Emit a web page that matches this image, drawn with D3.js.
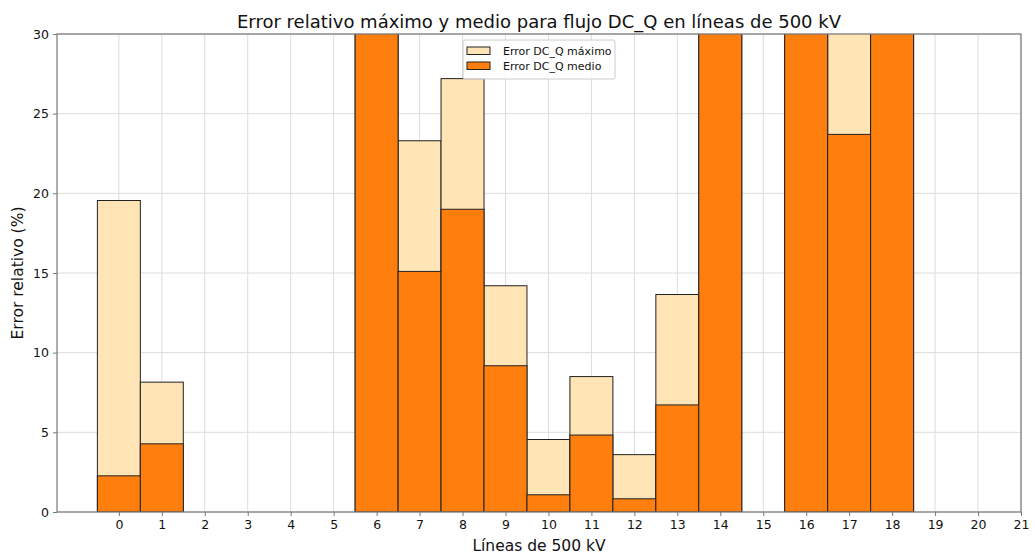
<!DOCTYPE html>
<html>
<head>
<meta charset="utf-8">
<script src="https://cdn.jsdelivr.net/npm/d3@7"></script>
<style>
  html, body { margin: 0; padding: 0; background: #fff; }
  svg { display: block; font-family: "DejaVu Sans", sans-serif; }
</style>
</head>
<body>
<svg id="chart" width="1035" height="556"></svg>
<script>
// Line index (500 kV lines)
const lines = d3.range(0, 19);
// Maximum relative error of DC_Q flow (%) — null where no data
const errMax = [19.55, 8.15, null, null, null, null, 48.0, 23.3, 27.2, 14.2, 4.55, 8.5, 3.6, 13.65, 55.0, null, 62.0, 41.0, 44.0];
// Mean relative error of DC_Q flow (%)
const errMean = [2.27, 4.28, null, null, null, null, 36.0, 15.1, 19.0, 9.18, 1.08, 4.83, 0.83, 6.72, 40.0, null, 47.0, 23.7, 33.0];
const xTicks = d3.range(0, 22);
const yTicks = [0, 5, 10, 15, 20, 25, 30];
const seriesNames = ["Error DC_Q máximo", "Error DC_Q medio"];
const colors = ["#FFE4B5", "#FF7F0E"];

const svg = d3.select("#chart");
const margin = { left: 57, right: 14, top: 34, bottom: 44 };
const W = 1035, H = 556;

const x = d3.scaleLinear().domain([-1.44, 21]).range([margin.left, W - margin.right]);
const y = d3.scaleLinear().domain([0, 30]).range([H - margin.bottom, margin.top]);

svg.append("defs").append("clipPath").attr("id", "plotClip")
  .append("rect")
  .attr("x", x.range()[0]).attr("y", y.range()[1])
  .attr("width", x.range()[1] - x.range()[0])
  .attr("height", y.range()[0] - y.range()[1]);

// Grid
const grid = svg.append("g");
grid.selectAll(".gx").data(xTicks).join("line")
  .attr("x1", d => x(d)).attr("x2", d => x(d))
  .attr("y1", y(0)).attr("y2", y(30))
  .attr("stroke", "#dcdcdc").attr("stroke-width", 1);
grid.selectAll(".gy").data(yTicks).join("line")
  .attr("x1", x.range()[0]).attr("x2", x.range()[1])
  .attr("y1", d => y(d)).attr("y2", d => y(d))
  .attr("stroke", "#dcdcdc").attr("stroke-width", 1);

// Bars
const bars = svg.append("g").attr("clip-path", "url(#plotClip)");
const bw = x(1) - x(0);
[errMax, errMean].forEach((vals, k) => {
  bars.append("g").selectAll("rect")
    .data(lines.filter(i => vals[i] != null))
    .join("rect")
    .attr("x", i => x(i - 0.5))
    .attr("width", bw)
    .attr("y", i => y(vals[i]))
    .attr("height", i => y(0) - y(vals[i]))
    .attr("fill", colors[k])
    .attr("stroke", "#222")
    .attr("stroke-width", 1);
});

// Frame
svg.append("rect")
  .attr("x", x.range()[0]).attr("y", y.range()[1])
  .attr("width", x.range()[1] - x.range()[0])
  .attr("height", y.range()[0] - y.range()[1])
  .attr("fill", "none").attr("stroke", "#777").attr("stroke-width", 1.2);

// Axes
const xAxis = svg.append("g").attr("transform", `translate(0,${y(0)})`)
  .call(d3.axisBottom(x).tickValues(xTicks).tickFormat(d3.format("d")).tickSize(4).tickPadding(4));
const yAxis = svg.append("g").attr("transform", `translate(${x.range()[0]},0)`)
  .call(d3.axisLeft(y).tickValues(yTicks).tickSize(4).tickPadding(4));
[xAxis, yAxis].forEach(a => {
  a.select(".domain").remove();
  a.selectAll(".tick line").attr("stroke", "#777");
  a.selectAll(".tick text").attr("fill", "#111").style("font-size", "12.5px")
    .style("font-family", "DejaVu Sans, sans-serif");
});

// Titles
svg.append("text").attr("x", (x.range()[0] + x.range()[1]) / 2).attr("y", 28)
  .attr("text-anchor", "middle").style("font-size", "18px").attr("fill", "#111")
  .text("Error relativo máximo y medio para flujo DC_Q en líneas de 500 kV");
svg.append("text").attr("x", (x.range()[0] + x.range()[1]) / 2).attr("y", 551)
  .attr("text-anchor", "middle").style("font-size", "15.5px").attr("fill", "#111")
  .text("Líneas de 500 kV");
svg.append("text").attr("transform", `translate(23,${(y(0) + y(30)) / 2}) rotate(-90)`)
  .attr("text-anchor", "middle").style("font-size", "15.5px").attr("fill", "#111")
  .text("Error relativo (%)");

// Legend
const lg = svg.append("g").attr("transform", "translate(463,40)");
lg.append("rect").attr("width", 152).attr("height", 39).attr("rx", 2)
  .attr("fill", "rgba(255,255,255,0.8)").attr("stroke", "#ccc");
seriesNames.forEach((name, k) => {
  const row = lg.append("g").attr("transform", `translate(4,${7 + k * 15})`);
  row.append("rect").attr("width", 23).attr("height", 7.5)
    .attr("fill", colors[k]).attr("stroke", "#222").attr("stroke-width", 1);
  row.append("text").attr("x", 36).attr("y", 8)
    .style("font-size", "11px").attr("fill", "#111").text(name);
});
</script>
</body>
</html>
